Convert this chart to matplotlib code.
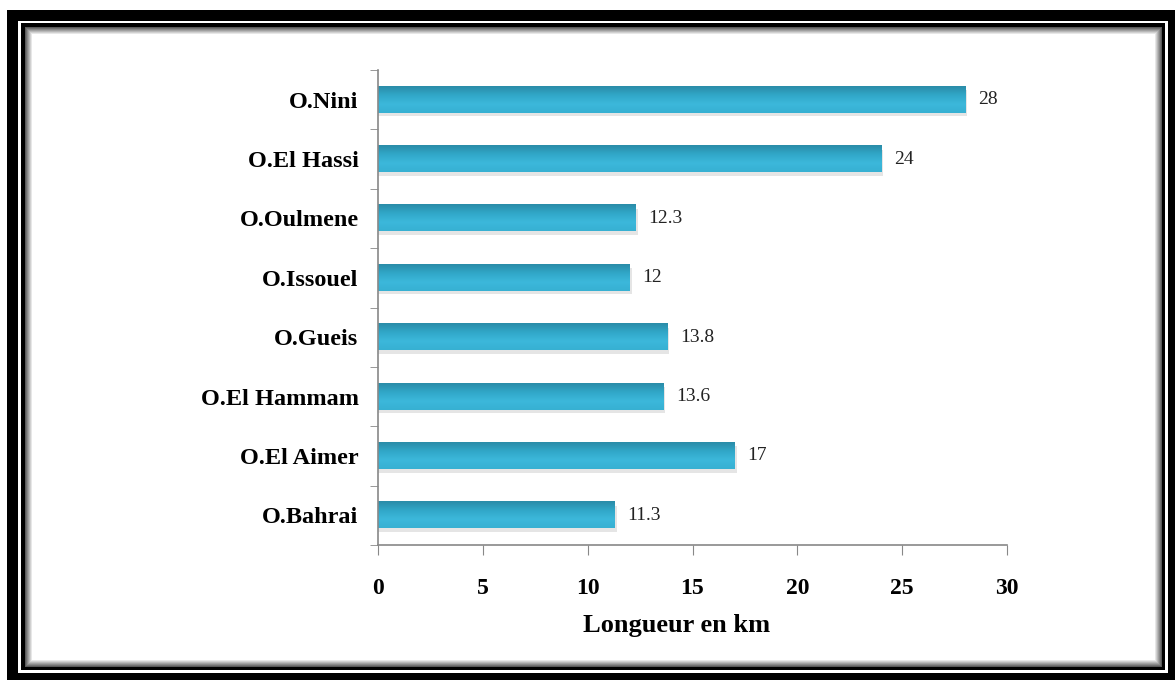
import numpy as np
import matplotlib.pyplot as plt
from matplotlib.patches import Rectangle
from matplotlib.colors import LinearSegmentedColormap

# Data (top to bottom as shown)
rivers = ["O.Nini", "O.El Hassi", "O.Oulmene", "O.Issouel",
          "O.Gueis", "O.El Hammam", "O.El Aimer", "O.Bahrai"]
lengths = [28, 24, 12.3, 12, 13.8, 13.6, 17, 11.3]
value_labels = ["28", "24", "12.3", "12", "13.8", "13.6", "17", "11.3"]
xticks = [0, 5, 10, 15, 20, 25, 30]

plt.rcParams["font.family"] = ["Liberation Serif", "DejaVu Serif"]

W, H = 1175, 680
fig = plt.figure(figsize=(W / 100, H / 100), dpi=100)
fig.patch.set_facecolor("white")


def frect(x0, y0, x1, y1, **kw):
    # rectangle in pixel coords (y from top), drawn behind the axes
    fig.patches.append(Rectangle((x0 / W, 1 - y1 / H), (x1 - x0) / W, (y1 - y0) / H,
                                 transform=fig.transFigure, zorder=-10, **kw))


# picture frame: thick black, thin white, thin black, soft shadow
frect(7, 10, 1175, 680, facecolor="black", edgecolor="none")
frect(18, 21, 1168, 673, facecolor="white", edgecolor="none")
frect(21, 23, 1165, 670, facecolor="black", edgecolor="none")
for i, g in enumerate(np.linspace(0.35, 1.0, 8)):
    frect(25 + i, 27 + i, 1162 - i, 667 - i, facecolor=(g, g, g), edgecolor="none")

ax = fig.add_axes([378 / W, 1 - 545 / H, (1007 - 378) / W, (545 - 70) / H])
ax.set_facecolor("none")

y = np.arange(len(rivers))[::-1]
bar_h = 0.44
cmap = LinearSegmentedColormap.from_list("bar", ["#2a8ca8", "#31a7c8", "#3cb8db", "#37b0d2"])
grad = np.linspace(0, 1, 64).reshape(-1, 1)

for yi, v in zip(y, lengths):
    # shadow under bar
    ax.add_patch(Rectangle((0, yi - bar_h / 2 - 0.06), v + 0.1, bar_h,
                           facecolor="#000000", alpha=0.10, edgecolor="none", zorder=1))
    ax.imshow(grad, extent=[0, v, yi - bar_h / 2, yi + bar_h / 2], cmap=cmap,
              aspect="auto", origin="upper", zorder=2, interpolation="bicubic")

bars = ax.barh(y, lengths, height=bar_h, color="none", edgecolor="none", zorder=3)

for yi, v, lab in zip(y, lengths, value_labels):
    ax.text(v + 0.6, yi, lab, va="center", ha="left", fontsize=14, color="#222222")

ax.set_xlim(0, 30)
ax.set_ylim(-0.5, len(rivers) - 0.5)
ax.set_xticks(xticks)
ax.set_xticklabels([str(t) for t in xticks], fontsize=17, fontweight="bold")
ax.set_yticks(y)
ax.set_yticklabels(rivers, fontsize=17.5, fontweight="bold")
ax.set_yticks(np.arange(-0.5, len(rivers), 1), minor=True)
ax.tick_params(axis="y", which="major", length=0, pad=14)
ax.tick_params(axis="y", which="minor", length=6, color="#888888", direction="out")
ax.tick_params(axis="x", length=7, color="#888888", direction="out", pad=17)
ax.set_xlabel("Longueur en km", fontsize=19, fontweight="bold", labelpad=13)
ax.xaxis.set_label_coords(0.475, -0.145)

for s in ["top", "right"]:
    ax.spines[s].set_visible(False)
for s in ["left", "bottom"]:
    ax.spines[s].set_color("#888888")
    ax.spines[s].set_linewidth(1.2)

fig.savefig("out.png", dpi=100)
